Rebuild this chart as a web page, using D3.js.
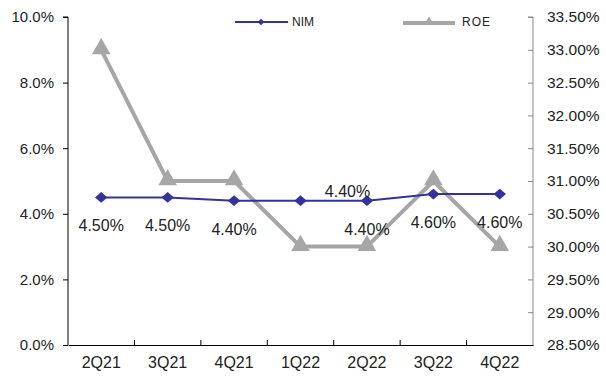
<!DOCTYPE html>
<html>
<head>
<meta charset="utf-8">
<script src="https://cdn.jsdelivr.net/npm/d3@7"></script>
<style>
  body { margin: 0; background: #fff; }
  svg text { font-family: "Liberation Sans", Arial, sans-serif; }
</style>
</head>
<body>
<div id="chart"></div>
<script>
const quarters = ['2Q21', '3Q21', '4Q21', '1Q22', '2Q22', '3Q22', '4Q22'];
const nim = [4.5, 4.5, 4.4, 4.4, 4.4, 4.6, 4.6];
const roe = [33.0, 31.0, 31.0, 30.0, 30.0, 31.0, 30.0];
const leftTicks = [0, 2, 4, 6, 8, 10];
const rightTicks = [28.5, 29, 29.5, 30, 30.5, 31, 31.5, 32, 32.5, 33, 33.5];

const largura = 606, altura = 379;
const m = { top: 17, right: 73, bottom: 34, left: 68 };

const svg = d3.select('#chart')
    .append('svg')
    .attr('width', largura)
    .attr('height', altura);

const x = d3.scaleBand()
    .domain(quarters)
    .range([m.left, largura - m.right]);

const yL = d3.scaleLinear()
    .domain([0, 10])
    .range([altura - m.bottom, m.top]);

const yR = d3.scaleLinear()
    .domain([28.5, 33.5])
    .range([altura - m.bottom, m.top]);

const cx = d => x(d) + x.bandwidth() / 2;

// eixo esquerdo
const gL = svg.append('g')
    .attr('transform', `translate(${m.left},0)`)
    .call(d3.axisLeft(yL).tickValues(leftTicks).tickSize(5).tickPadding(9)
        .tickFormat(d => d.toFixed(1) + '%'));
gL.select('.domain').attr('stroke', '#000').attr('d', `M-5,${yL(10)}H0V${yL(0)}`);
gL.selectAll('.tick line').attr('stroke', '#000');
gL.selectAll('text').attr('font-size', 15).attr('fill', '#222');

// eixo direito
const gR = svg.append('g')
    .attr('transform', `translate(${largura - m.right},0)`)
    .call(d3.axisRight(yR).tickValues(rightTicks).tickSize(-5).tickPadding(14)
        .tickFormat(d => d.toFixed(2) + '%'));
gR.select('.domain').attr('stroke', '#888').attr('d', `M-5,${yR(33.5)}H0V${yR(28.5)}`);
gR.selectAll('.tick line').attr('stroke', '#888');
gR.selectAll('text').attr('font-size', 15.5).attr('fill', '#222');

// eixo x
const gX = svg.append('g')
    .attr('transform', `translate(0,${altura - m.bottom})`)
    .call(d3.axisBottom(x).tickSize(0).tickPadding(12));
gX.select('.domain').attr('stroke', '#000').attr('stroke-width', 1.2);
gX.selectAll('text').attr('font-size', 16).attr('fill', '#222');
gX.selectAll('.sep')
    .data(quarters.slice(1))
    .enter()
    .append('line')
    .attr('class', 'sep')
    .attr('x1', d => x(d)).attr('x2', d => x(d))
    .attr('y1', 0).attr('y2', -5)
    .attr('stroke', '#000');

// ROE
const linhaR = d3.line().x((d, i) => cx(quarters[i])).y(d => yR(d));
svg.append('path')
    .datum(roe)
    .attr('d', linhaR)
    .attr('fill', 'none')
    .attr('stroke', '#a6a6a6')
    .attr('stroke-width', 4);
const tri = d3.symbol().type(d3.symbolTriangle).size(150);
svg.selectAll('.roe')
    .data(roe)
    .enter()
    .append('path')
    .attr('class', 'roe')
    .attr('d', tri)
    .attr('transform', (d, i) => `translate(${cx(quarters[i])},${yR(d) - 1})`)
    .attr('fill', '#a6a6a6');

// NIM
const linhaN = d3.line().x((d, i) => cx(quarters[i])).y(d => yL(d));
svg.append('path')
    .datum(nim)
    .attr('d', linhaN)
    .attr('fill', 'none')
    .attr('stroke', '#333399')
    .attr('stroke-width', 2);
const dia = d3.symbol().type(d3.symbolSquare).size(64);
svg.selectAll('.nim')
    .data(nim)
    .enter()
    .append('path')
    .attr('class', 'nim')
    .attr('d', dia)
    .attr('transform', (d, i) => `translate(${cx(quarters[i])},${yL(d)}) scale(1.1,0.95) rotate(45)`)
    .attr('fill', '#333399');

// rótulos
svg.selectAll('.rot')
    .data(nim)
    .enter()
    .append('text')
    .attr('class', 'rot')
    .attr('x', (d, i) => cx(quarters[i]) + (i === 3 ? 47 : 0))
    .attr('y', (d, i) => yL(d) + (i === 3 ? -4 : 34))
    .attr('text-anchor', 'middle')
    .attr('font-size', 16)
    .attr('fill', '#222')
    .text(d => d.toFixed(2) + '%');

// legenda
const leg = svg.append('g').attr('font-size', 12);
leg.append('line').attr('x1', 235).attr('x2', 288).attr('y1', 22).attr('y2', 22)
    .attr('stroke', '#333399').attr('stroke-width', 2);
leg.append('path').attr('d', d3.symbol().type(d3.symbolSquare).size(22))
    .attr('transform', 'translate(261,22) rotate(45)').attr('fill', '#333399');
leg.append('text').attr('x', 292).attr('y', 26).text('NIM').attr('fill', '#222');
leg.append('line').attr('x1', 403).attr('x2', 455).attr('y1', 23).attr('y2', 23)
    .attr('stroke', '#a6a6a6').attr('stroke-width', 4);
leg.append('path').attr('d', d3.symbol().type(d3.symbolTriangle).size(40))
    .attr('transform', 'translate(429,22)').attr('fill', '#a6a6a6');
leg.append('text').attr('x', 462).attr('y', 26).text('ROE').attr('fill', '#222')
    .attr('letter-spacing', 1);
</script>
</body>
</html>
